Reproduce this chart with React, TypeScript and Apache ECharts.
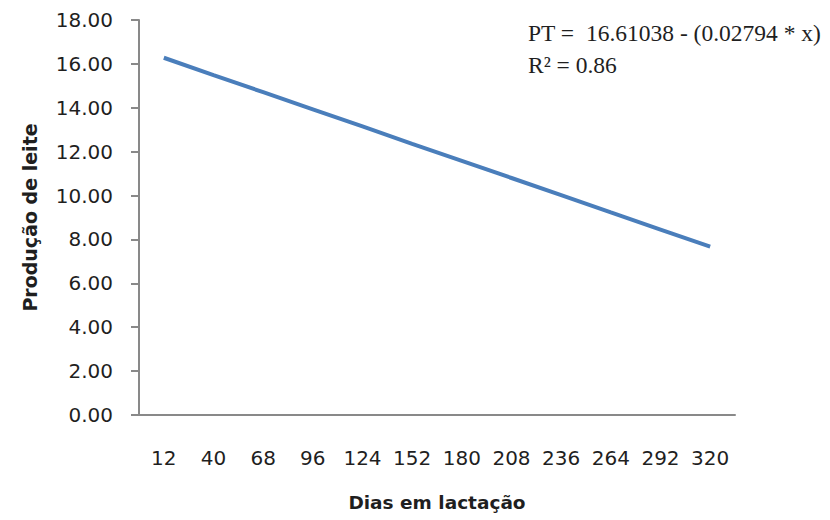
import React, { useEffect, useRef } from "react";
import * as echarts from "echarts";

const categories = ["12", "40", "68", "96", "124", "152", "180", "208", "236", "264", "292", "320"];
const production = [16.28, 15.49, 14.71, 13.93, 13.15, 12.36, 11.58, 10.8, 10.02, 9.23, 8.45, 7.67];
const equationLines = ["PT =  16.61038 - (0.02794 * x)", "R² = 0.86"];
const xTitle = "Dias em lactação";
const yTitle = "Produção de leite";

export default function App() {
  const ref = useRef<HTMLDivElement>(null);
  useEffect(() => {
    if (!ref.current) return;
    const chart = echarts.init(ref.current, undefined, { renderer: "svg" });
    const axisColor = "#898989";
    const textColor = "#1f1f1f";
    chart.setOption({
      animation: false,
      backgroundColor: "#ffffff",
      grid: { left: 131, right: 103, top: 12, bottom: 113, containLabel: false },
      xAxis: {
        type: "category",
        data: categories,
        boundaryGap: true,
        name: xTitle,
        nameLocation: "middle",
        nameGap: 78,
        nameTextStyle: { fontFamily: "DejaVu Sans", fontSize: 18.5, fontWeight: "bold", color: textColor },
        axisLine: { lineStyle: { color: axisColor, width: 2 } },
        axisTick: { show: false },
        axisLabel: { fontFamily: "DejaVu Sans", fontSize: 20, color: textColor, margin: 33, interval: 0 },
      },
      yAxis: {
        type: "value",
        min: 0,
        max: 18,
        interval: 2,
        name: yTitle,
        nameLocation: "middle",
        nameGap: 100,
        nameTextStyle: { fontFamily: "DejaVu Sans", fontSize: 19, fontWeight: "bold", color: textColor },
        axisLine: { show: true, lineStyle: { color: axisColor, width: 2 } },
        axisTick: { show: true, length: 8, lineStyle: { color: axisColor, width: 2 } },
        splitLine: { show: false },
        axisLabel: {
          fontFamily: "DejaVu Sans",
          fontSize: 20,
          color: textColor,
          margin: 26,
          formatter: (v: number) => v.toFixed(2),
        },
      },
      series: [
        {
          type: "line",
          data: production,
          symbol: "none",
          lineStyle: { color: "#4a7ebb", width: 4 },
        },
      ],
      graphic: [
        {
          type: "text",
          left: 520,
          top: 13,
          style: {
            text: equationLines[0],
            fontFamily: "Liberation Serif",
            fontSize: 23.5,
            fill: textColor,
          },
        },
        {
          type: "text",
          left: 520,
          top: 45,
          style: {
            text: equationLines[1],
            fontFamily: "Liberation Serif",
            fontSize: 23.5,
            fill: textColor,
          },
        },
      ],
    });
    return () => chart.dispose();
  }, []);
  return <div ref={ref} style={{ width: 830, height: 520 }} />;
}
